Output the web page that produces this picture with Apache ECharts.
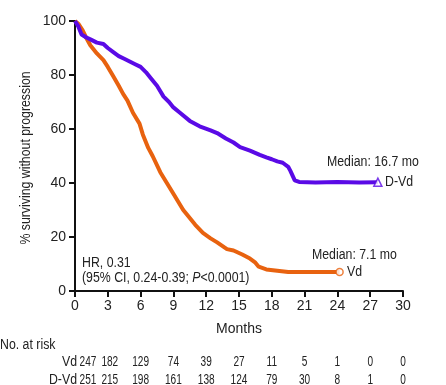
<!DOCTYPE html>
<html><head><meta charset="utf-8">
<script src="https://cdn.jsdelivr.net/npm/echarts@6/dist/echarts.min.js"></script>
<style>html,body{margin:0;padding:0;background:#fff}#c{width:446px;height:385px}</style>
</head><body><div id="c"></div>
<script>
const FONT = "'Liberation Sans',Arial,Helvetica,sans-serif";
const TXT = '#222';
const BLUE = '#5a0ae6';
const ORANGE = '#e8620f';

const xTicks = [0, 3, 6, 9, 12, 15, 18, 21, 24, 27, 30];
const yTicks = [0, 20, 40, 60, 80, 100];

const dvdMonths = [0, 0.3, 0.6, 1, 1.5, 2, 2.6, 3, 3.5, 4, 4.5, 5, 5.5, 6, 6.5, 6.9, 7.5, 8.1, 8.6, 9, 9.6, 10.5, 11.4, 12.4, 13, 13.8, 14.5, 15.1, 16, 16.9, 17.5, 18, 18.5, 19, 19.5, 19.7, 20.1, 20.5, 22, 24, 26, 27.7];
const dvdSurv   = [100, 98, 95, 94, 93, 92, 91.5, 90, 88.5, 87, 86, 85, 84, 83, 81, 79, 76, 72, 70, 68, 66, 63, 61, 59.5, 58.5, 56.5, 55, 53.3, 52, 50.4, 49.5, 48.8, 48, 47.5, 46, 44.5, 41, 40.4, 40.2, 40.4, 40.2, 40.3];

const vdMonths = [0, 0.3, 0.7, 1, 1.4, 2, 2.6, 3, 3.5, 4, 4.4, 4.8, 5.3, 5.9, 6.2, 6.7, 7.1, 7.8, 8.4, 9, 9.9, 10.2, 11, 11.7, 12.4, 13, 13.9, 14.5, 15.3, 16, 16.5, 16.8, 17.5, 18.5, 19.5, 21, 22.5, 24.2];
const vdSurv   = [100, 99, 96.5, 94, 91, 88, 85.5, 83, 79.5, 76, 73, 70.5, 66, 62, 58, 53, 50, 44, 40, 36, 30, 28.5, 24.5, 21.5, 19.5, 18, 15.5, 15, 13.5, 12, 10.5, 9, 8, 7.5, 7, 7, 7, 7];

const riskMonths = [0, 3, 6, 9, 12, 15, 18, 21, 24, 27, 30];
const riskVd  = [247, 182, 129, 74, 39, 27, 11, 5, 1, 0, 0];
const riskDVd = [251, 215, 198, 161, 138, 124, 79, 30, 8, 1, 0];

const pairs = (xs, ys) => xs.map((x, i) => [x, ys[i]]);
const chart = echarts.init(document.getElementById('c'), null, {renderer: 'canvas'});

const option = {
  animation: false,
  backgroundColor: '#fff',
  grid: {left: 75, right: 43, top: 21, bottom: 94, containLabel: false},
  xAxis: {
    type: 'value', min: 0, max: 30, interval: 3,
    name: 'Months', nameLocation: 'middle', nameGap: 31,
    nameTextStyle: {fontFamily: FONT, fontSize: 14, color: TXT},
    axisLine: {lineStyle: {color: '#111', width: 2}},
    axisTick: {show: true, length: 6, lineStyle: {color: '#111', width: 2}},
    axisLabel: {fontFamily: FONT, fontSize: 14, color: TXT, margin: 8},
    splitLine: {show: false}
  },
  yAxis: {
    type: 'value', min: 0, max: 100, interval: 20,
    axisLine: {show: true, lineStyle: {color: '#111', width: 2}},
    axisTick: {show: true, length: 6, lineStyle: {color: '#111', width: 2}},
    axisLabel: {fontFamily: FONT, fontSize: 14, color: TXT, margin: 9},
    splitLine: {show: false}
  },
  series: [
    {type: 'line', name: 'D-Vd', data: pairs(dvdMonths, dvdSurv), showSymbol: false,
     lineStyle: {color: BLUE, width: 4}, z: 3},
    {type: 'line', name: 'Vd', data: pairs(vdMonths, vdSurv), showSymbol: false,
     lineStyle: {color: ORANGE, width: 4}, z: 2},
    {type: 'scatter', data: [[dvdMonths[dvdMonths.length-1], dvdSurv[dvdSurv.length-1]]],
     symbol: 'triangle', symbolSize: 8, itemStyle: {color: '#fff', borderColor: BLUE, borderWidth: 1.5}, z: 4},
    {type: 'scatter', data: [[vdMonths[vdMonths.length-1], vdSurv[vdSurv.length-1]]],
     symbol: 'circle', symbolSize: 7, itemStyle: {color: '#fff', borderColor: ORANGE, borderWidth: 1.5}, z: 4}
  ]
};
chart.setOption(option);

const SX = 0.88;
function t(text, x, y, align, extra) {
  return Object.assign({type: 'text', x: x, y: y, scaleX: SX, silent: true,
    style: {text: text, fontFamily: FONT, fontSize: 14, fill: TXT,
            textAlign: align || 'left', textVerticalAlign: 'middle'}}, extra || {});
}
const gfx = [
  t('Median: 16.7 mo', 327, 162),
  t('D-Vd', 385, 182),
  t('Median: 7.1 mo', 312, 255),
  t('Vd', 347, 272),
  t('HR, 0.31', 82, 263),
  {type: 'text', x: 82, y: 278, scaleX: SX, silent: true, style: {
    text: '(95% CI, 0.24-0.39; {i|P}<0.0001)', fontFamily: FONT, fontSize: 14, fill: TXT,
    textAlign: 'left', textVerticalAlign: 'middle',
    rich: {i: {fontFamily: FONT, fontSize: 14, fontStyle: 'italic', fill: TXT}}
  }},
  t('% surviving without progression', 26, 158, 'center', {rotation: Math.PI / 2}),
  t('No. at risk', 0, 345),
  t('Vd', 77, 362, 'right'),
  t('D-Vd', 77, 380, 'right')
];
riskMonths.forEach((m, i) => {
  const px = chart.convertToPixel({gridIndex: 0}, [m, 0])[0] + (i === 0 ? 13 : (i === 1 ? 2 : 0));
  gfx.push(t(String(riskVd[i]), px, 362, 'center', {scaleX: 0.72}));
  gfx.push(t(String(riskDVd[i]), px, 380, 'center', {scaleX: 0.72}));
});
chart.setOption({graphic: gfx});
</script></body></html>
